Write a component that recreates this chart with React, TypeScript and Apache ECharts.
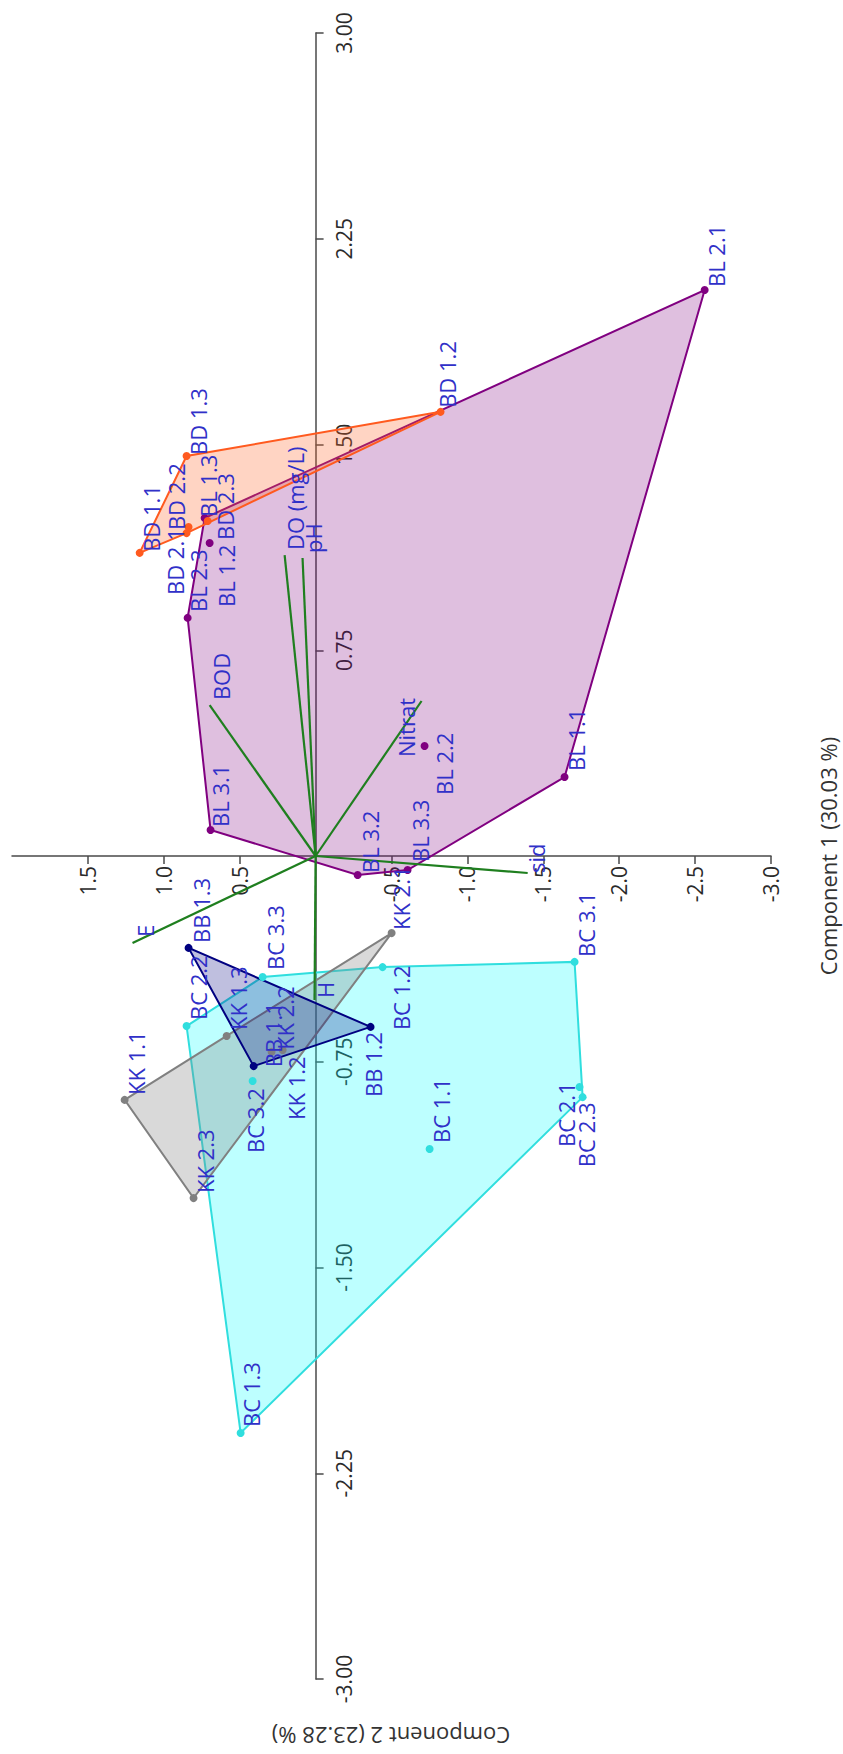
import React, { useEffect, useRef } from "react";
import * as echarts from "echarts";

// ---------------- Data (PCA scores) ----------------
const blNames = ["BL 1.1", "BL 1.2", "BL 1.3", "BL 2.1", "BL 2.2", "BL 2.3", "BL 3.1", "BL 3.2", "BL 3.3"];
const blComp1 = [0.288, 1.141, 1.232, 2.063, 0.401, 0.868, 0.095, -0.069, -0.051];
const blComp2 = [-1.64, 0.698, 0.731, -2.563, -0.718, 0.843, 0.692, -0.277, -0.606];

const bdNames = ["BD 1.1", "BD 1.2", "BD 1.3", "BD 2.1", "BD 2.2", "BD 2.3"];
const bdComp1 = [1.105, 1.619, 1.458, 1.199, 1.177, 1.221];
const bdComp2 = [1.159, -0.823, 0.85, 0.837, 0.85, 0.711];

const bcNames = ["BC 1.1", "BC 1.2", "BC 1.3", "BC 2.1", "BC 2.2", "BC 2.3", "BC 3.1", "BC 3.2", "BC 3.3"];
const bcComp1 = [-1.068, -0.405, -2.103, -0.842, -0.62, -0.879, -0.386, -0.82, -0.441];
const bcComp2 = [-0.751, -0.441, 0.494, -1.739, 0.85, -1.759, -1.706, 0.415, 0.349];

const kkNames = ["KK 1.1", "KK 1.2", "KK 1.3", "KK 2.1", "KK 2.2", "KK 2.3"];
const kkComp1 = [-0.889, -0.707, -0.656, -0.281, -0.714, -1.247];
const kkComp2 = [1.258, 0.217, 0.586, -0.501, 0.29, 0.804];

const bbNames = ["BB 1.1", "BB 1.2", "BB 1.3"];
const bbComp1 = [-0.766, -0.623, -0.335];
const bbComp2 = [0.408, -0.362, 0.837];

const loadNames = ["DO (mg/L)", "pH", "BOD", "Nitrat", "sid", "E", "H"];
const loadComp1 = [1.097, 1.086, 0.55, 0.565, -0.062, -0.317, -0.525];
const loadComp2 = [0.204, 0.086, 0.698, -0.698, -1.397, 1.206, 0.007];

const comp1Ticks = [3, 2.25, 1.5, 0.75, -0.75, -1.5, -2.25, -3];
const comp2Ticks = [1.5, 1, 0.5, -0.5, -1, -1.5, -2, -2.5, -3];
const comp1Title = "Component 1 (30.03 %)";
const comp2Title = "Component 2 (23.28 %)";

// ---------------- Styles / layout ----------------
const FONT = '"Open Sans", "Noto Sans", sans-serif';
const LABEL_COLOR = "#3030c8";
const AXIS_COLOR = "#4a4a4a";
const LOAD_COLOR = "#1f7f1f";

const GRID_LEFT = 12;
const GRID_RIGHT = 72;
const GRID_TOP = 33;
const GRID_BOTTOM = 75;
const PAGE_W = 843;
const PAGE_H = 1754;
const X_MIN = -3;
const X_MAX = 2;
const Y_MIN = -3;
const Y_MAX = 3;

const groupStyle: Record<string, { stroke: string; fill: string }> = {
  BL: { stroke: "#800080", fill: "rgba(128,0,128,0.25)" },
  BD: { stroke: "#ff5a1f", fill: "rgba(255,100,40,0.28)" },
  BC: { stroke: "#30dede", fill: "rgba(0,255,255,0.26)" },
  KK: { stroke: "#808080", fill: "rgba(128,128,128,0.3)" },
  BB: { stroke: "#000080", fill: "rgba(0,0,128,0.25)" },
};

// label anchor nudges in pixels (rotated text: start of text / centre of glyph body)
const labelNudge: Record<string, [number, number]> = {
  "BL 1.1": [11, -6], "BL 1.2": [16, 64], "BL 1.3": [3, -1], "BL 2.1": [11, -3], "BL 2.2": [19, 49],
  "BL 2.3": [10, -6], "BL 3.1": [9, -3], "BL 3.2": [12, -2], "BL 3.3": [12, -8],
  "BD 1.1": [11, -1], "BD 1.2": [6, -4], "BD 1.3": [11, -1], "BD 2.1": [-14, 68], "BD 2.2": [-11, -3], "BD 2.3": [17, 19],
  "BB 1.1": [19, 1], "BB 1.2": [2, 70], "BB 1.3": [12, -5],
  "KK 1.1": [11, -5], "KK 1.2": [13, 70], "KK 1.3": [11, -6], "KK 2.1": [9, -3], "KK 2.2": [13, -2], "KK 2.3": [11, -5],
  "BC 1.1": [11, -6], "BC 1.2": [18, 63], "BC 1.3": [10, -6], "BC 2.1": [-14, 60], "BC 2.2": [11, -6],
  "BC 2.3": [3, 70], "BC 3.1": [11, -5], "BC 3.2": [2, 72], "BC 3.3": [12, -7],
  "DO (mg/L)": [10, -5], pH: [10, -5], BOD: [11, -5], Nitrat: [-16, 56], sid: [8, 0], E: [12, -6], H: [10, -2],
};

const groups = [
  { key: "BL", names: blNames, c1: blComp1, c2: blComp2 },
  { key: "BD", names: bdNames, c1: bdComp1, c2: bdComp2 },
  { key: "BC", names: bcNames, c1: bcComp1, c2: bcComp2 },
  { key: "KK", names: kkNames, c1: kkComp1, c2: kkComp2 },
  { key: "BB", names: bbNames, c1: bbComp1, c2: bbComp2 },
];

function convexHull(pts: number[][]): number[][] {
  const p = pts.slice().sort((a, b) => (a[0] === b[0] ? a[1] - b[1] : a[0] - b[0]));
  if (p.length < 3) return p;
  const cross = (o: number[], a: number[], b: number[]) =>
    (a[0] - o[0]) * (b[1] - o[1]) - (a[1] - o[1]) * (b[0] - o[0]);
  const lower: number[][] = [];
  for (const q of p) {
    while (lower.length >= 2 && cross(lower[lower.length - 2], lower[lower.length - 1], q) <= 0) lower.pop();
    lower.push(q);
  }
  const upper: number[][] = [];
  for (let i = p.length - 1; i >= 0; i--) {
    const q = p[i];
    while (upper.length >= 2 && cross(upper[upper.length - 2], upper[upper.length - 1], q) <= 0) upper.pop();
    upper.push(q);
  }
  upper.pop();
  lower.pop();
  return lower.concat(upper);
}

export default function App() {
  const ref = useRef<HTMLDivElement>(null);

  useEffect(() => {
    if (!ref.current) return;
    const chart = echarts.init(ref.current, null, { renderer: "svg" });

    const gridW = PAGE_W - GRID_LEFT - GRID_RIGHT;
    const gridH = PAGE_H - GRID_TOP - GRID_BOTTOM;
    // place the axes through the origin (x axis is inverted: max on the left)
    const yAxisOffset = -(gridW * (X_MAX - 0)) / (X_MAX - X_MIN);
    const xAxisOffset = -(gridH * (0 - Y_MIN)) / (Y_MAX - Y_MIN);

    const labelItems: { name: string; value: number[] }[] = [];
    groups.forEach((g) => g.names.forEach((n, i) => labelItems.push({ name: n, value: [g.c2[i], g.c1[i]] })));
    loadNames.forEach((n, i) => labelItems.push({ name: n, value: [loadComp2[i], loadComp1[i]] }));

    const option: any = {
      animation: false,
      backgroundColor: "#ffffff",
      grid: { left: GRID_LEFT, right: GRID_RIGHT, top: GRID_TOP, bottom: GRID_BOTTOM, containLabel: false, outerBoundsMode: "none" },
      xAxis: {
        type: "value",
        min: X_MIN,
        max: X_MAX,
        interval: 0.5,
        inverse: true,
        position: "bottom",
        offset: xAxisOffset,
        axisLine: { onZero: false, lineStyle: { color: AXIS_COLOR, width: 1.5 } },
        axisTick: { show: true, length: 8, lineStyle: { color: AXIS_COLOR, width: 1.5 }, customValues: comp2Ticks },
        axisLabel: {
          rotate: 90,
          margin: 10,
          fontSize: 21,
          fontFamily: FONT,
          color: "#2a2a2a",
          customValues: comp2Ticks,
          formatter: (v: number) => v.toFixed(1),
        },
        splitLine: { show: false },
      },
      yAxis: {
        type: "value",
        min: Y_MIN,
        max: Y_MAX,
        interval: 0.75,
        position: "left",
        offset: yAxisOffset,
        axisLine: { onZero: false, lineStyle: { color: AXIS_COLOR, width: 1.5 } },
        axisTick: { show: true, inside: true, length: 8, lineStyle: { color: AXIS_COLOR, width: 1.5 }, customValues: comp1Ticks },
        axisLabel: {
          inside: true,
          rotate: 90,
          margin: 18,
          fontSize: 21,
          fontFamily: FONT,
          color: "#2a2a2a",
          customValues: comp1Ticks,
          formatter: (v: number) => v.toFixed(2),
        },
        splitLine: { show: false },
      },
      graphic: [
        {
          type: "text",
          x: 828,
          y: 856,
          rotation: Math.PI / 2,
          style: { text: comp1Title, fill: "#333", fontSize: 22, fontFamily: FONT, align: "center", verticalAlign: "middle" },
        },
        {
          type: "text",
          x: 391,
          y: 1736,
          rotation: Math.PI,
          style: { text: comp2Title, fill: "#333", fontSize: 22, fontFamily: FONT, align: "center", verticalAlign: "middle" },
        },
      ],
      series: [
        {
          type: "custom",
          name: "hulls",
          coordinateSystem: "cartesian2d",
          silent: true,
          z: 2,
          data: groups.map((g) => [g.c2[0], g.c1[0]]),
          renderItem: (params: any, api: any) => {
            const g = groups[params.dataIndex];
            const pts = convexHull(g.c2.map((x, i) => [x, g.c1[i]])).map((p) => api.coord(p));
            const st = groupStyle[g.key];
            return {
              type: "polygon",
              shape: { points: pts },
              style: { fill: st.fill, stroke: st.stroke, lineWidth: 2 },
            };
          },
        },
        {
          type: "custom",
          name: "loadings",
          coordinateSystem: "cartesian2d",
          silent: true,
          z: 3,
          data: loadComp2.map((x, i) => [x, loadComp1[i]]),
          renderItem: (params: any, api: any) => {
            const o = api.coord([0, 0]);
            const e = api.coord([api.value(0), api.value(1)]);
            return {
              type: "line",
              shape: { x1: o[0], y1: o[1], x2: e[0], y2: e[1] },
              style: { stroke: LOAD_COLOR, lineWidth: 2.2 },
            };
          },
        },
        ...groups.map((g) => ({
          type: "scatter",
          name: g.key,
          z: 4,
          symbol: "circle",
          symbolSize: 8,
          itemStyle: { color: groupStyle[g.key].stroke, opacity: 1 },
          data: g.names.map((n, i) => ({ name: n, value: [g.c2[i], g.c1[i]] })),
        })),
        {
          type: "custom",
          name: "labels",
          coordinateSystem: "cartesian2d",
          silent: true,
          z: 5,
          data: labelItems.map((d) => d.value),
          renderItem: (params: any, api: any) => {
            const item = labelItems[params.dataIndex];
            const p = api.coord([api.value(0), api.value(1)]);
            const nd = labelNudge[item.name] || [11, -4];
            return {
              type: "text",
              x: p[0] + nd[0],
              y: p[1] + nd[1],
              rotation: Math.PI / 2,
              style: {
                text: item.name,
                fill: LABEL_COLOR,
                fontSize: 22,
                fontFamily: FONT,
                align: "left",
                verticalAlign: "middle",
              },
            };
          },
        },
      ],
    };

    chart.setOption(option);
    return () => chart.dispose();
  }, []);

  return (
    <div
      ref={ref}
      style={{ position: "absolute", left: 0, top: 0, width: PAGE_W, height: PAGE_H, background: "#ffffff" }}
    />
  );
}
